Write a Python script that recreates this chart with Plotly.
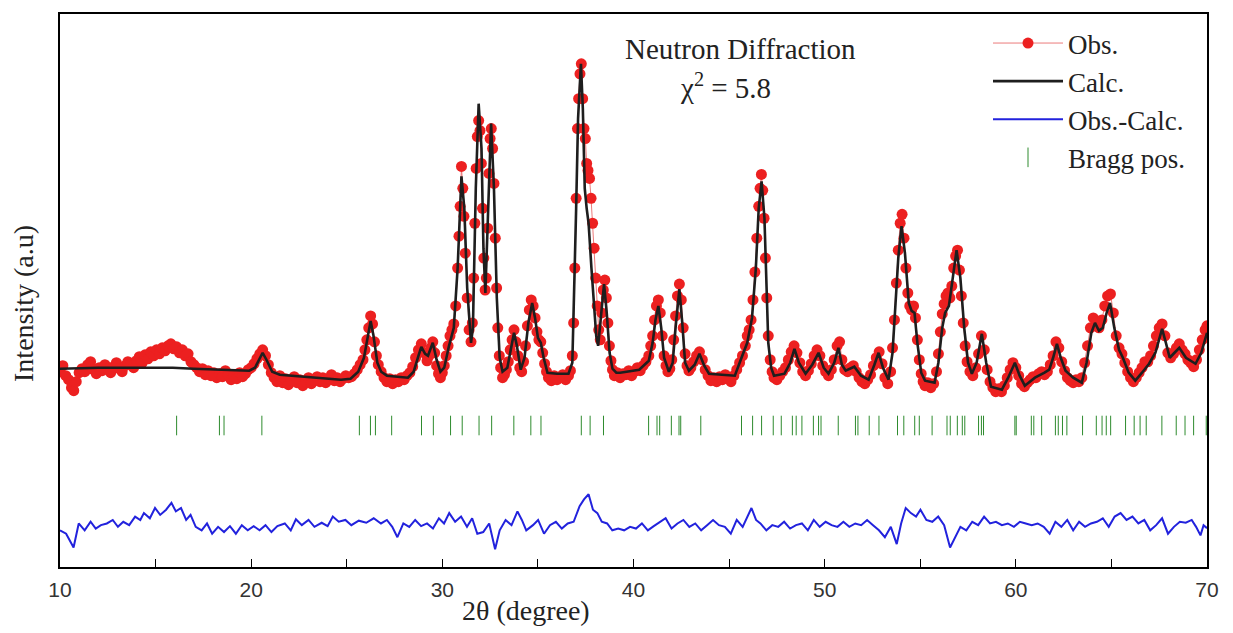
import plotly.graph_objects as go

# ---------------- data (2θ in degrees, intensity in arbitrary units) ----------------
calc_x = [10.0, 12.0, 14.0, 15.9, 17.0, 18.5, 19.9, 20.2, 20.45, 20.6, 20.8, 21.1, 21.5, 23.0, 24.7,
          25.2, 25.6, 25.9, 26.1, 26.25, 26.4, 26.6, 26.8, 27.1, 28.2, 28.5, 28.75, 28.9, 29.1, 29.25,
          29.5, 29.7, 29.9, 30.1, 30.35, 30.6, 30.8, 31.0, 31.15, 31.3, 31.5, 31.6, 31.75, 31.9, 32.05,
          32.15, 32.25, 32.4, 32.55, 32.7, 32.85, 33.0, 33.15, 33.4, 33.6, 33.75, 33.9, 34.1, 34.3,
          34.5, 34.7, 34.85, 35.0, 35.15, 35.3, 35.5, 36.0, 36.6, 36.8, 36.9, 37.0, 37.1, 37.25, 37.35,
          37.45, 37.55, 37.65, 37.8, 37.95, 38.05, 38.15, 38.3, 38.46, 38.6, 38.75, 38.9, 39.1, 39.3,
          40.3, 40.8, 41.0, 41.15, 41.3, 41.45, 41.6, 41.85, 42.05, 42.2, 42.4, 42.55, 42.7, 42.9,
          43.2, 43.45, 43.7, 43.95, 45.3, 45.65, 45.95, 46.2, 46.4, 46.55, 46.7, 46.85, 46.95, 47.05,
          47.2, 47.35, 47.9, 48.2, 48.42, 48.65, 49.0, 49.35, 49.68, 49.95, 50.2, 50.5, 50.72, 50.9,
          51.1, 51.35, 51.55, 51.9, 52.3, 52.6, 52.82, 53.05, 53.34, 53.55, 53.7, 53.85, 54.02, 54.2,
          54.4, 54.55, 54.7, 54.85, 55.05, 55.25, 55.75, 55.95, 56.15, 56.3, 56.5, 56.7, 56.9, 57.1,
          57.3, 57.5, 57.7, 57.95, 58.22, 58.45, 58.7, 59.27, 59.6, 59.95, 60.2, 60.47, 61.0, 61.5,
          61.75, 61.95, 62.15, 62.35, 62.6, 63.0, 63.45, 63.7, 63.95, 64.14, 64.35, 64.55, 64.75,
          64.93, 65.15, 65.4, 65.6, 65.9, 66.25, 66.6, 66.97, 67.3, 67.65, 67.85, 68.05, 68.3, 68.55,
          68.9, 69.4, 69.7, 70.0]
calc_y = [199, 200, 200, 200, 199, 198, 197, 200, 210, 215, 208, 196, 193, 191, 188,
          189, 196, 210, 232, 247, 232, 205, 196, 192, 190, 196, 212, 221, 214, 212,
          225, 208, 196, 200, 222, 240, 300, 392, 360, 280, 225, 240, 380, 465, 420,
          320, 275, 360, 445, 380, 270, 210, 196, 200, 220, 235, 222, 198, 210,
          245, 265, 250, 230, 225, 210, 195, 194, 194, 205, 270, 360, 450, 505, 460,
          380, 360, 345, 300, 255, 232, 222, 255, 284, 255, 215, 199, 195, 195,
          198, 207, 225, 248, 262, 240, 210, 196, 205, 240, 279, 245, 205, 197,
          203, 214, 202, 194, 192, 210, 225, 250, 300, 360, 387, 350, 290, 225,
          200, 192, 194, 205, 219, 205, 194, 203, 215, 200, 194, 205, 220, 203,
          197, 199, 201, 192, 188, 203, 215, 200, 188, 215, 260, 310, 342, 315,
          265, 257, 255, 225, 195, 187, 185, 205, 240, 255, 262, 290, 318, 290,
          240, 205, 194, 205, 234, 205, 181, 178, 190, 205, 192, 182, 190, 195,
          198, 210, 224, 210, 197, 190, 185, 205, 235, 245, 237, 240, 255,
          265, 240, 218, 210, 195, 187, 195, 204, 215, 239, 225, 210, 215, 220,
          210, 204, 215, 235]

obs_x = [10.0, 10.15, 10.3, 10.45, 10.6, 10.72, 10.85, 11.0, 11.15, 11.3, 11.45, 11.6, 11.75, 11.9,
         12.05, 12.2, 12.35, 12.5, 12.65, 12.8, 12.95, 13.1, 13.25, 13.4, 13.55, 13.7, 13.85, 14.0,
         14.15, 14.3, 14.45, 14.6, 14.75, 14.9, 15.05, 15.2, 15.35, 15.5, 15.65, 15.8, 15.95, 16.1,
         16.25, 16.4, 16.55, 16.7, 16.85, 17.0, 17.15, 17.3, 17.45, 17.6, 17.75, 17.9, 18.05, 18.2,
         18.35, 18.5, 18.65, 18.8, 18.95, 19.1, 19.25, 19.4, 19.55, 19.7, 19.85, 20.0, 20.15, 20.3,
         20.45, 20.6, 20.75, 20.9, 21.05, 21.2, 21.35, 21.5, 21.65, 21.8, 21.95, 22.1, 22.25, 22.4,
         22.55, 22.7, 22.85, 23.0, 23.15, 23.3, 23.45, 23.6, 23.75, 23.9, 24.05, 24.2, 24.35, 24.5,
         24.65, 24.8, 24.95, 25.1, 25.25, 25.4, 25.55, 25.7, 25.85, 25.95, 26.05, 26.15, 26.25, 26.35,
         26.45, 26.55, 26.65, 26.8, 26.95, 27.1, 27.25, 27.4, 27.55, 27.7, 27.85, 28.0, 28.15, 28.3,
         28.45, 28.6, 28.75, 28.9, 29.05, 29.2, 29.3, 29.4, 29.5, 29.6, 29.7, 29.8, 29.9, 30.0,
         30.1, 30.2, 30.3, 30.4, 30.5, 30.6, 30.7, 30.8, 30.87, 30.93, 31.0, 31.07, 31.13, 31.2,
         31.3, 31.4, 31.5, 31.57, 31.64, 31.7, 31.77, 31.83, 31.9, 31.97, 32.04, 32.1, 32.17, 32.24,
         32.3, 32.37, 32.44, 32.5, 32.56, 32.63, 32.7, 32.77, 32.84, 32.9, 32.98, 33.05, 33.15, 33.25,
         33.35, 33.45, 33.55, 33.65, 33.75, 33.85, 33.95, 34.05, 34.15, 34.25, 34.35, 34.45, 34.55,
         34.65, 34.75, 34.85, 34.95, 35.05, 35.15, 35.25, 35.35, 35.45, 35.55, 35.7, 35.85, 36.0,
         36.15, 36.3, 36.45, 36.6, 36.7, 36.8, 36.87, 36.93, 37.0, 37.07, 37.13, 37.2, 37.27, 37.34,
         37.41, 37.48, 37.55, 37.62, 37.7, 37.78, 37.86, 37.94, 38.02, 38.1, 38.18, 38.26, 38.34,
         38.42, 38.5, 38.58, 38.66, 38.74, 38.82, 38.9, 39.0, 39.15, 39.3, 39.45,
         39.6, 39.75, 39.9, 40.05, 40.2, 40.35, 40.5, 40.65, 40.8, 40.9, 41.0, 41.1, 41.2, 41.3, 41.4,
         41.5, 41.6, 41.7, 41.8, 41.9, 42.0, 42.1, 42.2, 42.3, 42.4, 42.5, 42.6, 42.7, 42.8, 42.9,
         43.0, 43.15, 43.3, 43.45, 43.6, 43.75, 43.9, 44.05, 44.2, 44.35, 44.5, 44.65, 44.8, 44.95,
         45.1, 45.25, 45.4, 45.55, 45.7, 45.85, 45.95, 46.05, 46.15, 46.25, 46.35, 46.45, 46.55,
         46.62, 46.69, 46.76, 46.83, 46.9, 46.97, 47.05, 47.15, 47.25, 47.35, 47.5, 47.65, 47.8,
         47.95, 48.1, 48.25, 48.4, 48.55, 48.7, 48.85, 49.0, 49.15, 49.3, 49.45, 49.6, 49.75, 49.9,
         50.05, 50.2, 50.35, 50.5, 50.65, 50.78, 50.9, 51.05, 51.2, 51.35, 51.5, 51.65, 51.8, 51.95,
         52.1, 52.25, 52.4, 52.55, 52.7, 52.85, 53.0, 53.15, 53.3, 53.45, 53.55, 53.65, 53.75, 53.85,
         53.95, 54.05, 54.15, 54.25, 54.35, 54.45, 54.55, 54.65, 54.75, 54.85, 54.95, 55.05, 55.15,
         55.25, 55.4, 55.55, 55.7, 55.85, 55.95, 56.05, 56.15, 56.25, 56.35, 56.45, 56.55, 56.65,
         56.75, 56.85, 56.95, 57.05, 57.15, 57.25, 57.35, 57.45, 57.6, 57.75, 57.9, 58.05, 58.2,
         58.35, 58.5, 58.65, 58.8, 58.95, 59.1, 59.25, 59.4, 59.55, 59.7, 59.85, 60.0, 60.15, 60.3,
         60.45, 60.6, 60.75, 60.9, 61.05, 61.2, 61.35, 61.5, 61.65, 61.8, 61.95, 62.1, 62.25, 62.4,
         62.55, 62.7, 62.85, 63.0, 63.15, 63.3, 63.45, 63.6, 63.75, 63.9, 64.05, 64.2, 64.35, 64.5,
         64.65, 64.8, 64.95, 65.1, 65.25, 65.4, 65.55, 65.7, 65.85, 66.0, 66.15, 66.3, 66.45, 66.6,
         66.75, 66.9, 67.05, 67.2, 67.35, 67.5, 67.65, 67.8, 67.95, 68.1, 68.25, 68.4, 68.55, 68.7,
         68.85, 69.0, 69.15, 69.3, 69.45, 69.6, 69.75, 69.9, 70.0]
obs_y = [196, 202, 192, 188, 180, 177, 186, 195, 199, 196, 203, 206, 198, 194,
         200, 197, 203, 199, 195, 201, 205, 199, 196, 202, 206, 203, 200, 207,
         211, 205, 213, 209, 216, 212, 218, 214, 220, 217, 222, 224, 219, 221,
         215, 218, 212, 214, 206, 203, 200, 196, 199, 193, 197, 192, 195, 190,
         194, 191, 197, 193, 188, 192, 189, 195, 191, 194, 198, 200, 204, 209,
         214, 218, 212, 203, 195, 190, 186, 192, 185, 189, 183, 187, 191, 185,
         188, 182, 186, 190, 184, 187, 191, 186, 190, 185, 189, 193, 187, 190,
         186, 189, 192, 190, 191, 194, 198, 203, 208, 218, 228, 240, 252, 244,
         226, 212, 203, 196, 190, 186, 189, 184, 188, 186, 190, 188, 192, 195,
         201, 210, 218, 224, 215, 207, 212, 220, 226, 215, 202, 194, 190, 195,
         202, 212, 222, 232, 238, 244, 262, 300, 332, 362, 402, 380, 352, 315,
         270, 238, 226, 245, 290, 345, 400, 432, 448, 438, 405, 360, 310, 278,
         290, 340, 395, 430, 440, 420, 385, 330, 280, 240, 212, 200, 190, 193,
         198, 206, 218, 228, 238, 226, 212, 200, 196, 206, 222, 242, 258,
         268, 262, 250, 236, 228, 226, 215, 204, 196, 190, 187, 192, 188,
         190, 193, 188, 192, 197, 212, 245, 300, 370, 440, 470, 495, 505, 470,
         440, 430, 405, 398, 390, 370, 345, 320, 290, 262, 238, 228, 255,
         278, 288, 270, 245, 222, 207, 198, 192, 195, 190, 194,
         193, 197, 192, 196, 200, 197, 202, 206, 212, 222, 232, 248, 262, 268, 255,
         232, 212, 202, 196, 199, 208, 228, 252, 272, 284, 268, 240, 214, 202, 197,
         200, 206, 212, 216, 208, 198, 192, 187, 190, 186, 191, 188, 193, 189,
         186, 192, 198, 205, 212, 222, 232, 238, 248, 268, 296, 330, 362,
         380, 394, 378, 350, 310, 270, 232, 208, 196, 190, 188, 192, 196,
         200, 208, 216, 222, 215, 205, 196, 192, 197, 204, 212, 218, 212, 202,
         196, 192, 198, 208, 222, 226, 208, 198, 196, 200, 202, 196, 190, 186,
         184, 188, 193, 202, 210, 216, 204, 190, 184, 196, 220, 248, 285, 318,
         345, 354, 330, 300, 275, 262, 258, 262, 250, 228, 208, 194, 186,
         182, 185, 180, 184, 196, 214, 236, 254, 264, 272, 275, 270, 282,
         300, 312, 318, 298, 272, 245, 222, 206, 196, 192, 200, 214, 232,
         218, 198, 186, 180, 176, 179, 176, 182, 190, 198, 205, 200, 192, 184,
         181, 185, 188, 191, 190, 194, 196, 193, 196, 203, 212, 226, 220, 206,
         197, 190, 187, 185, 188, 186, 190, 205, 222, 240, 250, 246, 240, 248,
         262, 272, 274, 255, 232, 220, 214, 205, 196, 190, 186, 190, 195, 200,
         206, 206, 212, 222, 232, 240, 244, 232, 215, 210, 214, 220, 224, 218,
         214, 208, 205, 201, 208, 218, 228, 238, 242]

diff_x = [10.0, 10.32, 10.71, 10.98, 11.29, 11.6, 11.87, 12.14, 12.45, 12.76, 13.03, 13.31, 13.62,
          13.93, 14.2, 14.39, 14.7, 14.97, 15.24, 15.55, 15.83, 16.06, 16.33, 16.6, 16.83, 17.1,
          17.41, 17.69, 17.96, 18.27, 18.58, 18.89, 19.2, 19.51, 19.82, 20.13, 20.44, 20.75, 21.06,
          21.37, 21.76, 22.07, 22.34, 22.65, 23.0, 23.31, 23.69, 24.0, 24.27, 24.58, 24.93, 25.24,
          25.63, 26.02, 26.41, 26.79, 27.1, 27.38, 27.65, 27.96, 28.27, 28.58, 28.89, 29.2, 29.51,
          29.82, 30.09, 30.36, 30.67, 30.98, 31.29, 31.56, 31.83, 32.14, 32.45, 32.76, 33.0, 33.31,
          33.62, 33.93, 34.16, 34.39, 34.74, 35.01, 35.32, 35.63, 35.94, 36.25, 36.56, 36.87, 37.18,
          37.41, 37.65, 37.88, 38.11, 38.34, 38.62, 38.89, 39.2, 39.51, 39.82, 40.13, 40.44, 40.75,
          41.06, 41.37, 41.68, 41.99, 42.3, 42.61, 42.92, 43.23, 43.54, 43.85, 44.16, 44.47, 44.78,
          45.09, 45.4, 45.71, 45.98, 46.17, 46.41, 46.64, 46.95, 47.26, 47.57, 47.88, 48.19, 48.5,
          48.81, 49.12, 49.43, 49.74, 50.05, 50.36, 50.67, 50.98, 51.29, 51.6, 51.91, 52.22, 52.53,
          52.84, 53.15, 53.46, 53.77, 54.0, 54.24, 54.51, 54.78, 55.01, 55.32, 55.63, 55.94, 56.25,
          56.56, 56.83, 57.1, 57.41, 57.72, 58.03, 58.34, 58.65, 58.96, 59.27, 59.58, 59.9, 60.21,
          60.52, 60.83, 61.14, 61.46, 61.77, 62.07, 62.38, 62.69, 63.0, 63.31, 63.62, 63.93, 64.24,
          64.55, 64.86, 65.17, 65.48, 65.79, 66.1, 66.41, 66.72, 67.03, 67.34, 67.65, 67.96, 68.27,
          68.58, 68.89, 69.2, 69.43, 69.66, 69.82, 70.0]
diff_y = [-5.2, -8.6, -22.4, 1.7, -5.2, 3.4, -3.4, 0, 1.7, 5.2, -1.7, 3.4, 0,
          8.6, 5.2, 12.1, 6.9, 17.2, 10.3, 15.5, 22.4, 13.8, 17.2, 5.2, 10.3, -1.7,
          -5.2, 1.7, -8.6, -1.7, -6.9, -1.0, -8.6, 0, -5.2, -1.0, -5.2, 0, -6.9,
          -1.0, 1.7, -5.2, 5.9, 0, 5.2, -1.7, 2.4, -1.0, 8.6, 3.4, 5.2, 0,
          4.5, 2.4, 6.9, 1.7, 5.2, -1.7, -12.1, 1.7, -1.7, 5.2, -1.0, 1.7, -3.4,
          6.9, 1.7, 12.1, 3.4, 8.6, -1.7, 6.9, -8.6, -6.9, 1.7, -24.1, -5.2, 5.2,
          0, 13.8, 5.2, -5.2, 0, 5.2, -8.6, 0, 3.4, -3.4, 1.7, 3.4, 19.0,
          25.9, 31.0, 15.5, 12.1, 3.4, 1.7, -5.2, -3.4, -5.2, -1.7, -3.4, 1.7, -5.2,
          -1.0, 3.4, 6.9, -3.4, 1.7, 5.2, -1.7, 1.7, -5.2, 0, 5.2, 0, -1.7,
          -8.6, 5.2, -1.7, 8.6, 17.2, 5.2, 1.7, -5.2, 0, -1.7, 3.4, -3.4, 0,
          1.7, -5.2, 5.2, -1.7, 3.4, 0, -1.7, 3.4, -1.7, 1.7, 0, 5.2, 0,
          -5.2, -12.1, -1.7, -19.0, 1.7, 17.2, 12.1, 8.6, 15.5, 5.2, 3.4, 8.6, 0,
          -22.4, -12.1, -1.7, -5.2, 3.4, 0, 8.6, 1.7, 3.4, 0, 1.7, -1.7, 3.4,
          1.7, 0, 1.7, -1.7, -8.6, 3.4, -1.7, 5.2, -5.2, 3.4, -1.7, 1.7, 3.4,
          6.9, -1.7, 8.6, 12.1, 5.2, 8.6, 1.7, 5.2, -5.2, 0, 6.9, -8.6, -1.7,
          3.4, 2.4, 5.2, -1.7, -10.3, 0, -3.0]

bragg_pos = [16.10, 18.34, 18.58, 20.56, 25.66, 26.24, 26.50, 27.35, 28.91, 29.53, 30.43, 31.04,
             31.92, 32.58, 33.74, 34.63, 35.16, 37.27, 37.73, 38.43, 40.79, 41.23, 41.37, 41.98,
             42.38, 42.47, 43.52, 45.65, 46.23, 46.70, 47.31, 47.73, 48.31, 48.51, 48.81, 49.41,
             49.68, 49.81, 50.71, 51.61, 51.74, 52.33, 52.84, 53.81, 54.14, 54.71, 54.95, 55.62,
             56.40, 56.57, 56.94, 57.20, 57.33, 58.05, 58.20, 58.31, 59.95, 60.02, 60.81, 60.94,
             61.35, 62.07, 62.22, 62.44, 62.67, 63.49, 64.21, 64.51, 64.73, 64.96, 65.74, 66.19,
             66.50, 66.82, 67.64, 68.39, 68.85, 69.30, 69.96]

DIFF_OFFSET = 42      # vertical offset of the difference curve
BRAGG_LEVEL = 142     # vertical level of the Bragg position ticks

x_ticks = [10, 20, 30, 40, 50, 60, 70]

SERIF = "Liberation Serif, Times New Roman, serif"
SANS = "Liberation Sans, Arial, sans-serif"

# figure size / margins (page body adds an 8 px offset)
W, H = 1225, 625
ML, MR, MT, MB = 52, 26, 4, 66
PW, PH = W - ML - MR, H - MT - MB


def px_x(px):
    """screen x (px) -> paper coordinate"""
    return (px - 8 - ML) / PW


def px_y(py):
    """screen y (px) -> paper coordinate"""
    return 1 - (py - 8 - MT) / PH


fig = go.Figure()

fig.add_trace(go.Scatter(
    x=obs_x, y=obs_y, mode="lines+markers", name="Obs.",
    line=dict(color="rgba(230,90,90,0.8)", width=1),
    marker=dict(color="rgb(236,32,32)", size=11, line=dict(width=0)),
))
fig.add_trace(go.Scatter(
    x=calc_x, y=calc_y, mode="lines", name="Calc.",
    line=dict(color="#1e1e1e", width=2.6),
))
fig.add_trace(go.Scatter(
    x=diff_x, y=[d + DIFF_OFFSET for d in diff_y], mode="lines", name="Obs.-Calc.",
    line=dict(color="#2222dd", width=2),
))
fig.add_trace(go.Scatter(
    x=bragg_pos, y=[BRAGG_LEVEL] * len(bragg_pos), mode="markers", name="Bragg pos.",
    marker=dict(symbol="line-ns", size=14, color="#2e8b2e", line=dict(color="#2e8b2e", width=1)),
))

fig.update_layout(
    width=W, height=H,
    margin=dict(l=ML, r=MR, t=MT, b=MB),
    paper_bgcolor="white", plot_bgcolor="white",
    showlegend=True,
    legend=dict(
        x=px_x(988), y=px_y(17), xanchor="left", yanchor="top",
        bgcolor="rgba(0,0,0,0)", borderwidth=0,
        font=dict(family=SERIF, size=27, color="#222"),
        itemwidth=70, tracegroupgap=0,
    ),
    xaxis=dict(
        range=[10, 70], tickvals=x_ticks, ticktext=[str(t) for t in x_ticks],
        ticks="inside", ticklen=8, tickwidth=1.2, tickcolor="black",
        minor=dict(dtick=5, ticks="inside", ticklen=8, tickwidth=1.2, tickcolor="black"),
        showline=True, linecolor="black", linewidth=1.6, mirror=True,
        showgrid=False, zeroline=False,
        tickfont=dict(family=SANS, size=21, color="#333"),
        ticklabelstandoff=3,
    ),
    yaxis=dict(
        range=[0, 555], showticklabels=False, ticks="",
        showline=True, linecolor="black", linewidth=1.6, mirror=True,
        showgrid=False, zeroline=False,
    ),
    annotations=[
        dict(text="Neutron Diffraction", xref="paper", yref="paper",
             x=px_x(740), y=px_y(47), xanchor="center", yanchor="middle", showarrow=False,
             font=dict(family=SERIF, size=29, color="#222")),
        dict(text="χ<sup>2</sup> = 5.8", xref="paper", yref="paper",
             x=px_x(725), y=px_y(84), xanchor="center", yanchor="middle", showarrow=False,
             font=dict(family=SERIF, size=29, color="#222")),
        dict(text="2θ (degree)", xref="paper", yref="paper",
             x=px_x(526), y=px_y(611), xanchor="center", yanchor="middle", showarrow=False,
             font=dict(family=SERIF, size=28, color="#222")),
        dict(text="Intensity (a.u)", xref="paper", yref="paper", textangle=-90,
             x=px_x(24), y=px_y(303), xanchor="center", yanchor="middle", showarrow=False,
             font=dict(family=SERIF, size=28, color="#222")),
    ],
)

fig.write_html("out.html")
